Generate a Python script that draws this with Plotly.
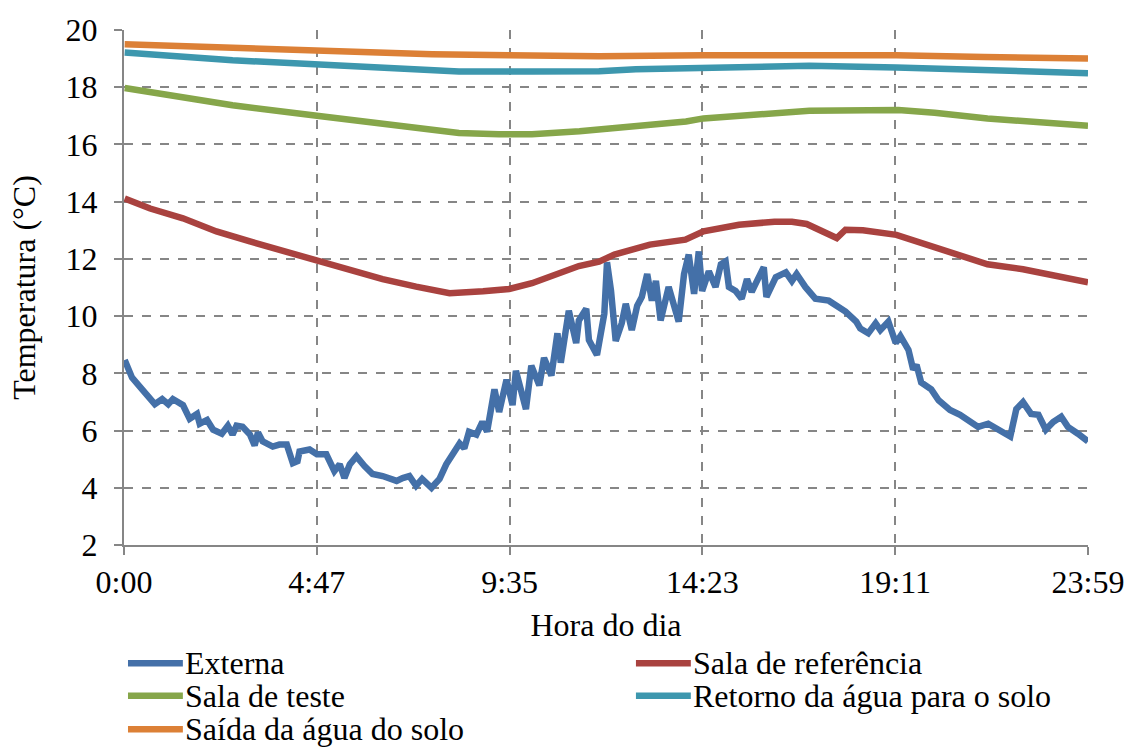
import plotly.graph_objects as go

# ---- data (time in minutes since 0:00, temperature in °C) ----
ext_t = [1, 12, 28, 46, 57, 66, 73, 88, 98, 109, 113, 124, 133, 146, 155, 162, 168, 177, 188, 195,
         200, 207, 222, 232, 243, 252, 259, 262, 277, 288, 302, 314, 322, 329, 337, 347, 359, 371,
         386, 407, 416, 426, 436, 445, 459, 471, 481, 490, 501, 508, 515, 526, 535, 542, 553, 560,
         571, 580, 585, 600, 608, 620, 627, 638, 647, 652, 664, 675, 679, 690, 694, 706, 717, 721,
         727, 734, 743, 749, 758, 766, 773, 781, 788, 794, 801, 813, 828, 836, 843, 851, 858, 863,
         873, 883, 891, 898, 903, 913, 922, 930, 937, 944, 955, 959, 973, 988, 997, 1004, 1017,
         1032, 1052, 1077, 1093, 1099, 1111, 1122, 1129, 1141, 1152, 1159, 1171, 1178, 1183, 1190,
         1205, 1216, 1226, 1233, 1248, 1275, 1290, 1305, 1323, 1332, 1342, 1354, 1365, 1376, 1387,
         1399, 1409, 1424, 1439]
ext_v = [8.47, 7.85, 7.41, 6.92, 7.10, 6.92, 7.10, 6.89, 6.41, 6.58, 6.24, 6.37, 6.03, 5.89, 6.17,
         5.86, 6.17, 6.13, 5.86, 5.48, 5.93, 5.62, 5.44, 5.51, 5.51, 4.86, 4.93, 5.27, 5.34, 5.17,
         5.17, 4.58, 4.82, 4.34, 4.82, 5.10, 4.76, 4.48, 4.41, 4.24, 4.34, 4.41, 4.07, 4.31, 4.00,
         4.31, 4.82, 5.17, 5.55, 5.38, 5.96, 5.86, 6.30, 5.96, 7.44, 6.65, 7.78, 6.89, 8.09, 6.75,
         8.27, 7.58, 8.54, 7.92, 9.40, 8.37, 10.19, 9.06, 9.85, 10.26, 9.16, 8.64, 10.09, 11.88,
         10.88, 9.13, 9.75, 10.43, 9.51, 10.36, 10.67, 11.47, 10.54, 11.23, 9.85, 11.02, 9.81,
         11.47, 12.15, 10.78, 12.26, 10.88, 11.57, 11.02, 11.81, 11.91, 11.02, 10.88, 10.61, 11.29,
         10.85, 11.19, 11.71, 10.67, 11.36, 11.53, 11.23, 11.47, 11.02, 10.61, 10.54, 10.16, 9.81,
         9.57, 9.40, 9.75, 9.51, 9.81, 9.06, 9.30, 8.82, 8.13, 8.30, 7.68, 7.44, 7.06, 6.89, 6.72,
         6.55, 6.13, 6.24, 6.06, 5.79, 6.75, 6.99, 6.58, 6.55, 6.03, 6.30, 6.48, 6.13, 5.89, 5.62]

ref_t = [1, 39, 88, 138, 188, 237, 288, 337, 386, 436, 486, 536, 575, 609, 660, 679, 709, 732, 785,
         838, 865, 918, 971, 997, 1019, 1050, 1064, 1077, 1103, 1153, 1183, 1236, 1289, 1342, 1394, 1439]
ref_v = [14.11, 13.76, 13.42, 12.96, 12.61, 12.27, 11.92, 11.58, 11.29, 11.03, 10.80, 10.87, 10.95,
         11.15, 11.58, 11.75, 11.90, 12.15, 12.50, 12.67, 12.96, 13.19, 13.30, 13.30, 13.22, 12.84,
         12.73, 13.02, 13.00, 12.84, 12.61, 12.21, 11.81, 11.64, 11.41, 11.18]

teste_t = [1, 64, 162, 288, 362, 436, 500, 560, 609, 680, 733, 839, 865, 971, 1023, 1156, 1210, 1289, 1369, 1439]
teste_v = [17.97, 17.75, 17.37, 17.00, 16.80, 16.57, 16.40, 16.36, 16.36, 16.46, 16.57, 16.80, 16.91,
           17.06, 17.18, 17.20, 17.11, 16.91, 16.77, 16.65]

retorno_t = [1, 79, 162, 262, 362, 436, 500, 609, 709, 764, 865, 1023, 1153, 1237, 1315, 1384, 1439]
retorno_v = [19.21, 19.06, 18.94, 18.83, 18.72, 18.63, 18.55, 18.55, 18.56, 18.63, 18.69, 18.75,
             18.69, 18.63, 18.54, 18.49, 18.49]

saida_t = [1, 79, 162, 288, 362, 460, 575, 709, 865, 1023, 1153, 1284, 1357, 1439]
saida_v = [19.50, 19.44, 19.36, 19.27, 19.23, 19.15, 19.12, 19.08, 19.12, 19.13, 19.12, 19.06, 19.01, 19.00]

x_tickvals = [0, 287.8, 575.6, 863.4, 1151.2, 1439]
x_ticktext = ["0:00", "4:47", "9:35", "14:23", "19:11", "23:59"]

series = [
    ("Externa", ext_t, ext_v, "#4470A8"),
    ("Sala de referência", ref_t, ref_v, "#A9423F"),
    ("Sala de teste", teste_t, teste_v, "#86A64A"),
    ("Retorno da água para o solo", retorno_t, retorno_v, "#3D97AE"),
    ("Saída da água do solo", saida_t, saida_v, "#DC8036"),
]

FONT = "Liberation Serif, Times New Roman, serif"
FS = 32
W, H = 1136, 748
L, R, T, B = 124, 46, 22, 203
pw, ph = W - L - R, H - T - B

fig = go.Figure()
for name, t, v, c in series:
    fig.add_trace(go.Scatter(x=t, y=v, mode="lines", name=name,
                             line=dict(color=c, width=6.5), showlegend=False))

# manual legend (two columns, three rows)
legend_pos = [(128, 665), (637, 665), (128, 698), (637, 698), (128, 732)]
shapes = []
annotations = []
for (name, _, _, c), (lx, ly) in zip(series, legend_pos):
    x0 = (lx - L) / pw
    x1 = (lx + 55 - L) / pw
    yy = (H - B - ly) / ph
    shapes.append(dict(type="line", xref="paper", yref="paper", x0=x0, x1=x1, y0=yy, y1=yy,
                       line=dict(color=c, width=6.5)))
    annotations.append(dict(text=name, xref="paper", yref="paper", x=(lx + 55 - L) / pw, y=yy,
                            xanchor="left", yanchor="middle", showarrow=False,
                            font=dict(family=FONT, size=FS, color="black")))

fig.update_layout(
    width=W, height=H,
    margin=dict(l=L, r=R, t=T, b=B),
    paper_bgcolor="white", plot_bgcolor="white",
    font=dict(family=FONT, size=FS, color="black"),
    shapes=shapes, annotations=annotations,
    showlegend=False,
)
fig.update_xaxes(
    range=[0, 1439], tickvals=x_tickvals, ticktext=x_ticktext,
    showgrid=True, gridcolor="#868686", griddash="dash", gridwidth=1.5,
    showline=True, linecolor="#868686", linewidth=2,
    ticks="outside", ticklen=8, tickcolor="#868686", tickwidth=1.5,
    zeroline=False,
    title=dict(text="Hora do dia", standoff=14, font=dict(family=FONT, size=FS)),
    tickfont=dict(family=FONT, size=FS),
)
fig.update_yaxes(
    range=[2, 20], dtick=2, tick0=2,
    showgrid=True, gridcolor="#868686", griddash="dash", gridwidth=1.5,
    showline=True, linecolor="#868686", linewidth=2,
    ticks="outside", ticklen=8, tickcolor="#868686", tickwidth=1.5,
    ticklabelstandoff=10,
    zeroline=False,
    title=dict(text="Temperatura (°C)", standoff=20, font=dict(family=FONT, size=FS)),
    tickfont=dict(family=FONT, size=FS),
)

fig.write_html("out.html")
